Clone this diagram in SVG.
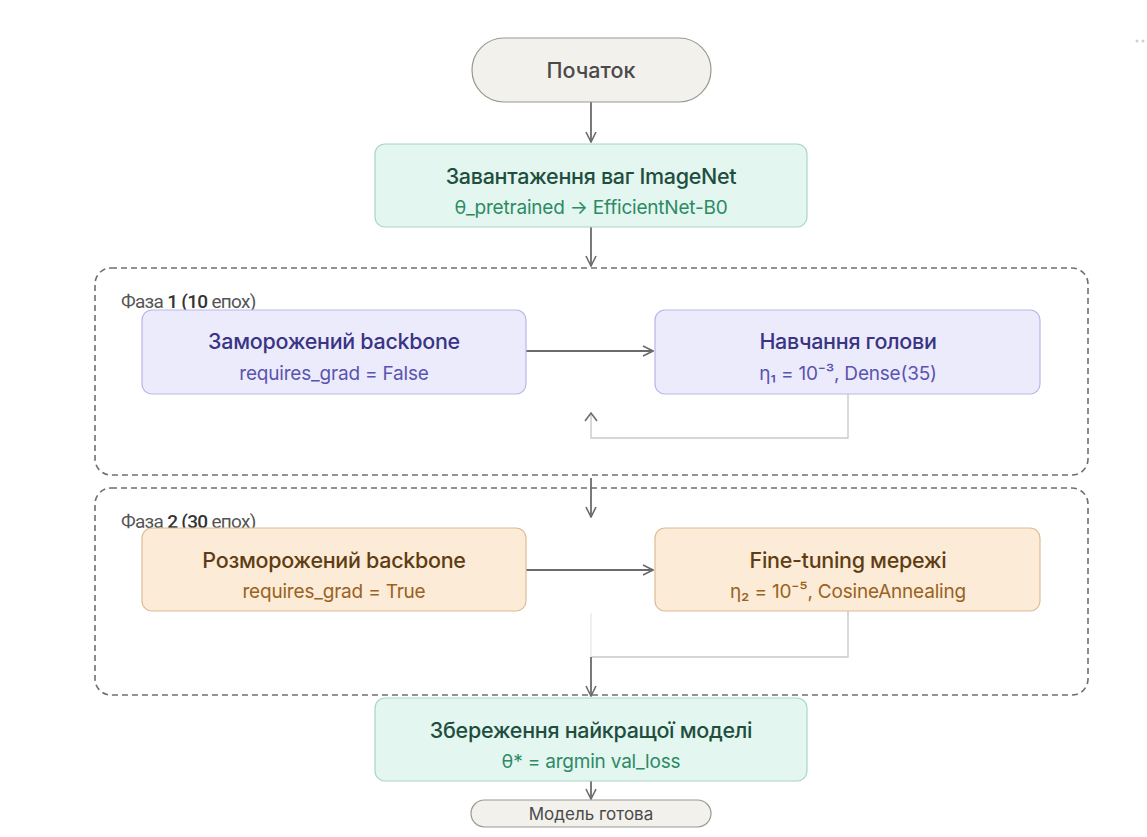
<svg xmlns="http://www.w3.org/2000/svg" width="1147" height="837" viewBox="0 0 1147 837">
  <style>
    .title { font-family: "Inter", "Noto Sans", "DejaVu Sans", sans-serif; font-size: 21.5px; font-weight: 500; text-anchor: middle; letter-spacing: -0.3px; }
    .sub { font-family: "Inter", "Noto Sans", "DejaVu Sans", sans-serif; font-size: 19px; font-weight: 400; text-anchor: middle; letter-spacing: -0.2px; }
    .phase { font-family: "Roboto", "Noto Sans", sans-serif; font-size: 19px; fill: #555; letter-spacing: -0.7px; }
    .phase .b { font-weight: 500; fill: #333; }
    .teal rect { fill: #e3f6ef; stroke: #a9d6c4; stroke-width: 1.2; }
    .teal .title { fill: #1f4e3f; }
    .teal .sub { fill: #2d8a66; }
    .lav rect { fill: #ecebfc; stroke: #b9b5ea; stroke-width: 1.2; }
    .lav .title { fill: #3a3484; }
    .lav .sub { fill: #5a54b0; }
    .org rect { fill: #fcebd6; stroke: #dcbc96; stroke-width: 1.2; }
    .org .title { fill: #5f3d14; }
    .org .sub { fill: #9a6223; }
    .pill rect { fill: #f3f1ec; stroke: #9a9893; stroke-width: 1.2; }
    .pill text { fill: #4a4a4a; font-family: "Inter", "Noto Sans", sans-serif; text-anchor: middle; }
    .phasebox { fill: none; stroke: #6f6f6f; stroke-width: 1.6; stroke-dasharray: 6 4; }
    .edge { fill: none; stroke: #6b6b6b; stroke-width: 1.8; }
    .loop { fill: none; stroke: #c9c9c9; stroke-width: 1.4; }
  </style>
  <defs>
    <marker id="arrow" viewBox="0 0 12 12" refX="11" refY="6" markerWidth="12" markerHeight="12" markerUnits="userSpaceOnUse" orient="auto">
      <path d="M1,1 L11,6 L1,11" fill="none" stroke="#6b6b6b" stroke-width="1.6"/>
    </marker>
  </defs>

  <rect width="1147" height="837" fill="#ffffff"/>

  <!-- faint corner dots -->
  <circle cx="1137" cy="41" r="1.5" fill="#cfcfcf"/>
  <circle cx="1143" cy="41" r="1.5" fill="#cfcfcf"/>

  <!-- phase containers -->
  <g id="phase1">
    <rect class="phasebox" x="95" y="268" width="993" height="207" rx="16"/>
    <text class="phase" x="121" y="308">Фаза <tspan class="b">1 (10</tspan> епох)</text>
  </g>
  <g id="phase2">
    <rect class="phasebox" x="95" y="488" width="993" height="207" rx="16"/>
    <text class="phase" x="121" y="528">Фаза <tspan class="b">2 (30</tspan> епох)</text>
  </g>

  <!-- connectors -->
  <g id="connectors">
    <line class="edge" x1="591" y1="102" x2="591" y2="142" marker-end="url(#arrow)"/>
    <line class="edge" x1="591" y1="227" x2="591" y2="266" marker-end="url(#arrow)"/>
    <line class="edge" x1="526" y1="351" x2="653" y2="351" marker-end="url(#arrow)"/>
    <path class="loop" d="M848,394 V438 H591 V414"/>
    <path d="M585,421 L591,413 L597,421" fill="none" stroke="#6b6b6b" stroke-width="1.6"/>
    <line class="edge" x1="591" y1="478" x2="591" y2="517" marker-end="url(#arrow)"/>
    <line class="edge" x1="526" y1="570" x2="653" y2="570" marker-end="url(#arrow)"/>
    <path class="loop" d="M848,611 V657 H591"/>
    <line x1="591" y1="613" x2="591" y2="657" stroke="#e6e6e6" stroke-width="1.2"/>
    <line class="edge" x1="591" y1="657" x2="591" y2="696" marker-end="url(#arrow)"/>
    <line class="edge" x1="591" y1="781" x2="591" y2="799" marker-end="url(#arrow)"/>
  </g>

  <!-- nodes -->
  <g id="start" class="pill">
    <rect x="472" y="38" width="239" height="64" rx="32"/>
    <text x="591" y="78" font-size="21.5" font-weight="500">Початок</text>
  </g>

  <g id="load" class="teal">
    <rect x="375" y="144" width="432" height="83" rx="10"/>
    <text class="title" x="591" y="184">Завантаження ваг ImageNet</text>
    <text class="sub" x="591" y="214">θ_pretrained → EfficientNet-B0</text>
  </g>

  <g id="frozen" class="lav">
    <rect x="142" y="310" width="384" height="84" rx="10"/>
    <text class="title" x="334" y="349">Заморожений backbone</text>
    <text class="sub" x="334" y="380">requires_grad = False</text>
  </g>

  <g id="head" class="lav">
    <rect x="655" y="310" width="385" height="84" rx="10"/>
    <text class="title" x="848" y="349">Навчання голови</text>
    <text class="sub" x="848" y="380">η₁ = 10⁻³, Dense(35)</text>
  </g>

  <g id="unfrozen" class="org">
    <rect x="142" y="528" width="384" height="83" rx="10"/>
    <text class="title" x="334" y="568">Розморожений backbone</text>
    <text class="sub" x="334" y="598">requires_grad = True</text>
  </g>

  <g id="finetune" class="org">
    <rect x="655" y="528" width="385" height="83" rx="10"/>
    <text class="title" x="848" y="568">Fine-tuning мережі</text>
    <text class="sub" x="848" y="598">η₂ = 10⁻⁵, CosineAnnealing</text>
  </g>

  <g id="save" class="teal">
    <rect x="375" y="698" width="432" height="83" rx="10"/>
    <text class="title" x="591" y="738">Збереження найкращої моделі</text>
    <text class="sub" x="591" y="768">θ* = argmin val_loss</text>
  </g>

  <g id="done" class="pill">
    <rect x="471" y="800" width="240" height="27" rx="13.5"/>
    <text x="591" y="820" font-size="17">Модель готова</text>
  </g>
</svg>
